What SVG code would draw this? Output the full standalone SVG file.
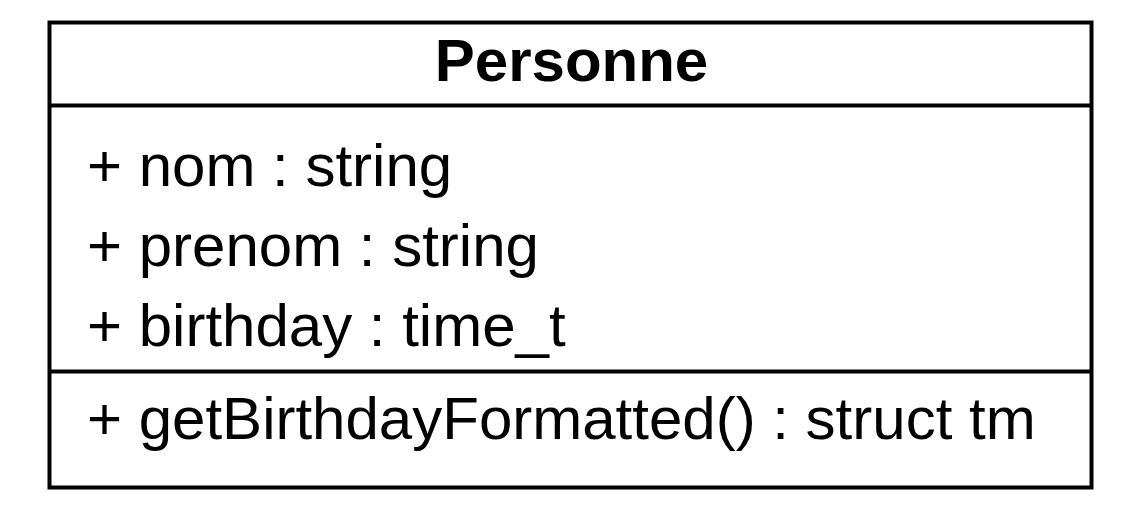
<svg xmlns="http://www.w3.org/2000/svg" width="1141" height="513" viewBox="0 0 1141 513">
  <style>
    .frame { fill: #ffffff; stroke: #000000; stroke-width: 4; }
    .sep { stroke: #000000; stroke-width: 4; }
    .title { font-family: "Liberation Sans", Arial, sans-serif; font-weight: bold; font-size: 60px; fill: #000000; }
    .member { font-family: "Liberation Sans", Arial, sans-serif; font-size: 60px; fill: #000000; }
  </style>
  <rect width="1141" height="513" fill="#ffffff"/>
  <g id="class-personne">
    <rect class="frame" x="49.5" y="22.5" width="1042" height="465"/>
    <line class="sep" x1="49.5" y1="105.5" x2="1091.5" y2="105.5"/>
    <line class="sep" x1="49.5" y1="371.5" x2="1091.5" y2="371.5"/>
    <text class="title" x="571.5" y="81" text-anchor="middle">Personne</text>
    <text class="member" x="87" y="186">+ nom : string</text>
    <text class="member" x="87" y="266">+ prenom : string</text>
    <text class="member" x="87" y="346">+ birthday : time_t</text>
    <text class="member" x="87" y="439">+ getBirthdayFormatted() : struct tm</text>
  </g>
  <g id="connectors"/>
</svg>
